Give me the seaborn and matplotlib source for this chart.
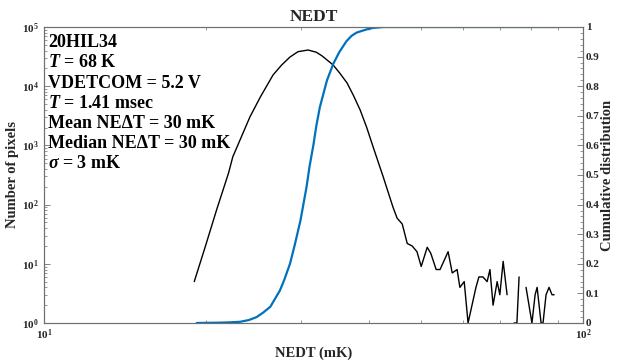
import numpy as np
import pandas as pd
import matplotlib
matplotlib.use("Agg")
import matplotlib.pyplot as plt
from matplotlib import ticker
import seaborn as sns

# NEDT histogram (black); zero-count bins break the line on the log axis
nedt_mk = [19.0, 19.9, 20.9, 22.0, 22.4, 23.1, 24.1, 25.2, 26.6, 27.6,
           28.6, 29.6, 30.9, 32.0, 32.8, 34.4, 35.4, 36.5, 37.5, 38.6,
           39.7, 40.8, 42.6, 44.4, 45.2,
           46.2, 47.2, 48.2, 49.2, 50.1, 51.4, 52.2, 53.4, 54.3, 56.2,
           57.2, 58.4, 59.1, 60.2, 61.2, 63.3, 64.1, 65.2, 66.4, 67.2,
           68.1, 69.3, 70.1, 71.1, 72.3, 73.4, 74.5, 75.4, 76.1, 77.2,
           78.4, 80.4, 81.5, 82.2, 83.6, 84.3, 85.4, 86.5, 87.6, 88.4]
pixel_count = [5, 19, 81, 342, 640, 1230, 3020, 6570, 15450, 22800,
               31100, 38300, 40850, 37500, 32500, 22800, 16500, 11330, 7000, 3960,
               2000, 940, 293, 91, 59,
               47, 22, 20, 16, 9, 19, 15, 8, 8, 16,
               7, 8, 4, 5, 1, 4, 6, 6, 5, 8,
               2, 5, 3, 11, 3, 0, 1, 1, 6, 0,
               4, 1, 3, 4, 1, 1, 3, 4, 3, 3]

# cumulative distribution (blue, right axis)
cdf_mk = [19.2, 21.0, 22.0, 23.1, 24.0, 24.8, 25.5, 26.3, 27.4, 27.9,
          28.6, 29.2, 29.9, 30.7, 31.1, 31.6, 32.0, 32.5, 33.5, 34.4,
          35.3, 36.4, 37.2, 38.0, 39.7, 40.8, 42.6, 89.9]
cdf_val = [0.0, 0.001, 0.002, 0.004, 0.01, 0.02, 0.035, 0.055, 0.11, 0.145,
           0.20, 0.265, 0.345, 0.46, 0.53, 0.60, 0.665, 0.73, 0.82, 0.875,
           0.915, 0.952, 0.97, 0.981, 0.992, 0.997, 1.0, 1.0]

info_lines = ["20HIL34", "$T$ = 68 K", "VDETCOM = 5.2 V", "$T$ = 1.41 msec",
              "Mean NE\u0394T = 30 mK", "Median NE\u0394T = 30 mK", "$\\sigma$ = 3 mK"]

sns.set_style("ticks")
plt.rcParams["font.family"] = ["Liberation Serif", "DejaVu Serif"]
plt.rcParams["font.weight"] = "bold"
plt.rcParams["mathtext.fontset"] = "custom"
plt.rcParams["mathtext.rm"] = "Liberation Serif:bold"
plt.rcParams["mathtext.bf"] = "Liberation Serif:bold"
plt.rcParams["mathtext.it"] = "Liberation Serif:italic:bold"

AXIS_GREY = "#6f6f6f"
TEXT_DARK = "#262626"

fig = plt.figure(figsize=(6.17, 3.6), dpi=100)
ax = fig.add_axes([0.0713, 0.1028, 0.8736, 0.8222])
ax.set_xscale("log")
ax.set_yscale("log")

hist = pd.DataFrame({"nedt": nedt_mk, "count": pixel_count})
hist["seg"] = (hist["count"] == 0).cumsum()
hist = hist[hist["count"] > 0]
sns.lineplot(data=hist, x="nedt", y="count", units="seg", estimator=None,
             color="black", lw=1.0, ax=ax)

ax.set_xlim(10, 100)
ax.set_ylim(1, 1e5)
ax.xaxis.set_minor_formatter(ticker.NullFormatter())
ax.yaxis.set_major_locator(ticker.LogLocator(base=10, numticks=10))
ax.yaxis.set_minor_locator(ticker.LogLocator(base=10, subs=np.arange(2, 10), numticks=20))
ax.tick_params(which="both", direction="in", top=True, right=False,
               color=AXIS_GREY, labelcolor=TEXT_DARK, labelsize=8)
ax.tick_params(which="major", length=4, width=0.6)
ax.tick_params(which="minor", length=2.5, width=0.5)
ax.set_xlabel("NEDT (mK)", fontsize=10.5, fontweight="bold", labelpad=3)
ax.set_ylabel("Number of pixels", fontsize=10.5, fontweight="bold", labelpad=2)
ax.set_title("NEDT", fontsize=12.5, fontweight="bold", pad=4)

ax2 = ax.twinx()
cdf = pd.DataFrame({"nedt": cdf_mk, "frac": cdf_val})
sns.lineplot(data=cdf, x="nedt", y="frac", color="#0072BD", lw=1.6, ax=ax2)
ax2.set_ylim(0, 1)
ax2.set_xlim(10, 100)
ax2.yaxis.set_major_locator(ticker.MultipleLocator(0.1))
ax2.yaxis.set_minor_locator(ticker.AutoMinorLocator(5))
ax2.yaxis.set_major_formatter(ticker.FormatStrFormatter("%g"))
ax2.tick_params(which="both", direction="in", color=AXIS_GREY,
                labelcolor=TEXT_DARK, labelsize=8, pad=2)
ax2.tick_params(which="major", length=4, width=0.6)
ax2.tick_params(which="minor", length=2, width=0.5)
ax2.set_ylabel("Cumulative distribution", fontsize=10.5, fontweight="bold", labelpad=1)
ax2.set_xlabel("")

for a in (ax, ax2):
    for sp in a.spines.values():
        sp.set_visible(True)
        sp.set_color(AXIS_GREY)
        sp.set_linewidth(0.8)

ypix = [43, 63, 84, 104, 124, 144, 164]
for txt, yp in zip(info_lines, ypix):
    ax.text(0.008, (323 - yp) / 296, txt, transform=ax.transAxes, ha="left",
            va="center", fontsize=13, fontweight="bold", color="black")

fig.savefig("out.png", dpi=100, facecolor="white")
